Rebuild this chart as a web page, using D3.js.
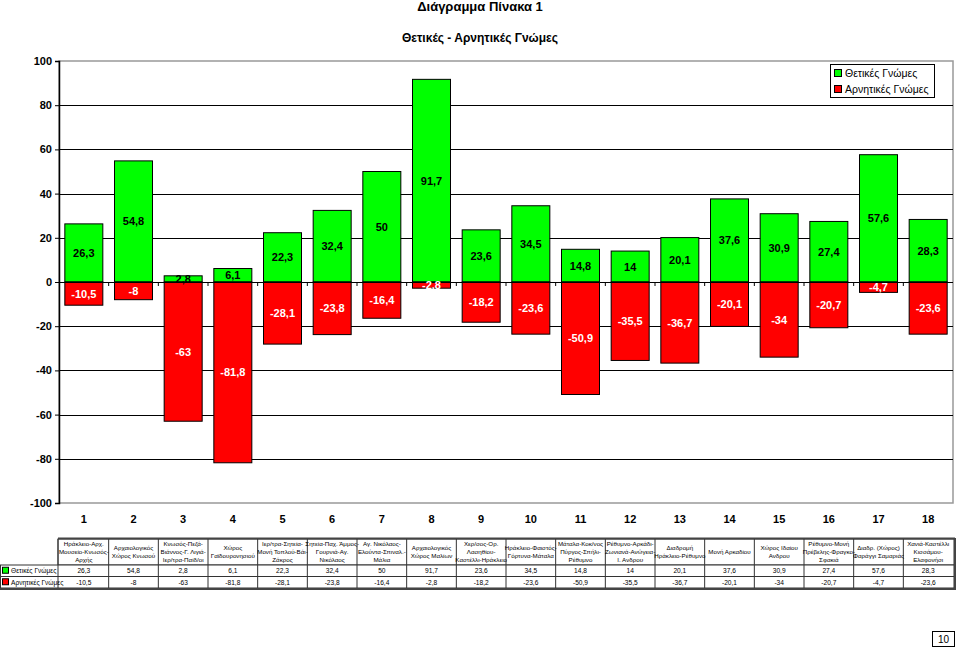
<!DOCTYPE html>
<html lang="el">
<head>
<meta charset="utf-8">
<title>Διάγραμμα Πίνακα 1</title>
<script src="https://d3js.org/d3.v7.min.js"></script>
<style>
  body { margin: 0; background: #fff; }
  svg { display: block; font-family: Arial, "Liberation Sans", sans-serif; }
</style>
</head>
<body>
<div id="chart"></div>
<script>
// categories (routes / sites), as printed in the table header
var categories = [
  ["Ηράκλειο-Αρχ.", "Μουσείο-Κνωσός-", "Αρχής"],
  ["Αρχαιολογικός", "Χώρος Κνωσού"],
  ["Κνωσός-Πεζά-", "Βιάννος-Γ. Λιγιά-", "Ιερ/τρα-Παίδ/οι"],
  ["Χώρος", "Γαϊδουρονησιού"],
  ["Ιερ/τρα-Σητεία-", "Μονή Τοπλού-Βάι-", "Ζάκρος"],
  ["Σητεία-Παχ. Άμμος-", "Γουρνιά-Αγ.", "Νικόλαος"],
  ["Αγ. Νικόλαος-", "Ελούντα-Σπιναλ.-", "Μάλια"],
  ["Αρχαιολογικός", "Χώρος Μαλίων"],
  ["Χερ/σος-Ορ.", "Λασηθίου-", "Καστέλλι-Ηράκλειο"],
  ["Ηράκλειο-Φαιστός-", "Γόρτυνα-Μάταλα"],
  ["Μάταλα-Κοκ/νος", "Πύργος-Σπήλι-", "Ρέθυμνο"],
  ["Ρέθυμνο-Αρκάδι-", "Ζωνιανά-Ανώγεια-", "Ι. Ανδρου"],
  ["Διαδρομή", "Ηράκλειο-Ρέθυμνο"],
  ["Μονή Αρκαδίου"],
  ["Χώρος Ιδαίου", "Ανδρου"],
  ["Ρέθυμνο-Μονή", "Πρέβελης-Φραγκο-", "Σφακιά"],
  ["Διαδρ. (Χώρος)", "Φαράγγι Σαμαριάς"],
  ["Χανιά-Καστέλλι", "Κισσάμου-", "Ελαφονήσι"]
];
var positive = [26.3, 54.8, 2.8, 6.1, 22.3, 32.4, 50, 91.7, 23.6, 34.5, 14.8, 14, 20.1, 37.6, 30.9, 27.4, 57.6, 28.3];
var negative = [-10.5, -8, -63, -81.8, -28.1, -23.8, -16.4, -2.8, -18.2, -23.6, -50.9, -35.5, -36.7, -20.1, -34, -20.7, -4.7, -23.6];
var seriesNames = ["Θετικές Γνώμες", "Αρνητικές Γνώμες"];
var yTicks = [-100, -80, -60, -40, -20, 0, 20, 40, 60, 80, 100];

var width = 960, height = 650;
var colors = ["#00ff00", "#ff0000"];
var fmt = function(v) { return String(v).replace(".", ","); };

var svg = d3.select("#chart").append("svg")
  .attr("width", width)
  .attr("height", height);

var idx = d3.range(categories.length);
var x = d3.scaleBand().domain(idx).range([59, 953]).paddingInner(0.235).paddingOuter(0.1175);
var y = d3.scaleLinear().domain([-100, 100]).range([503, 61]);

// titles
svg.append("text").attr("x", 480).attr("y", 11).attr("text-anchor", "middle")
  .attr("font-size", 13).attr("font-weight", "bold").text("Διάγραμμα Πίνακα 1");
svg.append("text").attr("x", 480).attr("y", 42).attr("text-anchor", "middle")
  .attr("font-size", 12).attr("font-weight", "bold").text("Θετικές - Αρνητικές Γνώμες");

// plot area border (grey) and gridlines
svg.append("rect").attr("x", 59).attr("y", y(100)).attr("width", 894).attr("height", y(-100) - y(100))
  .attr("fill", "none").attr("stroke", "#999").attr("stroke-width", 1.5);
svg.append("g").selectAll("line").data(yTicks.filter(function(t) { return t > -100 && t < 100; }))
  .enter().append("line")
  .attr("x1", 59).attr("x2", 953)
  .attr("y1", function(d) { return Math.round(y(d)) + 0.5; })
  .attr("y2", function(d) { return Math.round(y(d)) + 0.5; })
  .attr("stroke", "#000").attr("stroke-width", 1);

// bars
var bars = svg.append("g");
bars.selectAll("rect.pos").data(positive).enter().append("rect")
  .attr("x", function(d, i) { return x(i); })
  .attr("y", function(d) { return y(d); })
  .attr("width", x.bandwidth())
  .attr("height", function(d) { return y(0) - y(d); })
  .attr("fill", colors[0]).attr("stroke", "#000").attr("stroke-width", 1);
bars.selectAll("rect.neg").data(negative).enter().append("rect")
  .attr("x", function(d, i) { return x(i); })
  .attr("y", y(0))
  .attr("width", x.bandwidth())
  .attr("height", function(d) { return y(d) - y(0); })
  .attr("fill", colors[1]).attr("stroke", "#000").attr("stroke-width", 1);

// zero line and category boundary ticks
svg.append("line").attr("x1", 59).attr("x2", 953)
  .attr("y1", Math.round(y(0)) + 0.5).attr("y2", Math.round(y(0)) + 0.5)
  .attr("stroke", "#000").attr("stroke-width", 1.2);
svg.append("g").selectAll("line").data(d3.range(1, categories.length)).enter().append("line")
  .attr("x1", function(i) { return x(i) - x.step() * x.paddingInner() / 2; })
  .attr("x2", function(i) { return x(i) - x.step() * x.paddingInner() / 2; })
  .attr("y1", y(0)).attr("y2", y(0) + 4)
  .attr("stroke", "#000");

// y axis (plain hyphen minus like the original)
var yAxis = svg.append("g").attr("transform", "translate(59,0)")
  .call(d3.axisLeft(y).tickValues(yTicks).tickSize(4).tickFormat(function(d) { return String(d); }));
yAxis.select(".domain").attr("stroke", "#000").attr("stroke-width", 1.5);
yAxis.selectAll("text").attr("font-size", 11).attr("font-weight", "bold")
  .attr("font-family", "Arial, 'Liberation Sans', sans-serif").attr("fill", "#000");

// bar value labels
var labels = svg.append("g").attr("font-size", 11).attr("font-weight", "bold").attr("text-anchor", "middle");
labels.selectAll("text.pos").data(positive).enter().append("text")
  .attr("x", function(d, i) { return x(i) + x.bandwidth() / 2; })
  .attr("y", function(d) { return (y(d) + y(0)) / 2 + 4; })
  .attr("fill", "#000").text(fmt);
labels.selectAll("text.neg").data(negative).enter().append("text")
  .attr("x", function(d, i) { return x(i) + x.bandwidth() / 2; })
  .attr("y", function(d) { return (y(d) + y(0)) / 2 + 4; })
  .attr("fill", "#fff").text(fmt);

// category numbers
svg.append("g").selectAll("text").data(idx).enter().append("text")
  .attr("x", function(i) { return x(i) + x.bandwidth() / 2; })
  .attr("y", 523).attr("text-anchor", "middle")
  .attr("font-size", 11).attr("font-weight", "bold")
  .text(function(i) { return i + 1; });

// legend
var legend = svg.append("g");
legend.append("rect").attr("x", 830.5).attr("y", 64.5).attr("width", 104).attr("height", 33)
  .attr("fill", "#fff").attr("stroke", "#000");
seriesNames.forEach(function(name, k) {
  legend.append("rect").attr("x", 834.5).attr("y", 69.5 + k * 16).attr("width", 7).attr("height", 7)
    .attr("fill", colors[k]).attr("stroke", "#000");
  legend.append("text").attr("x", 845).attr("y", 77 + k * 16)
    .attr("font-size", 10.5).text(name);
});

// data table
var tTop = 539, hBottom = 565, r1 = 576.5, r2 = 588;
var tLeft = 58, tRight = 954;
var table = svg.append("g").attr("font-size", 6.2).attr("fill", "#000");
table.append("rect").attr("x", tLeft).attr("y", tTop).attr("width", tRight - tLeft).attr("height", hBottom - tTop)
  .attr("fill", "#fff").attr("stroke", "#333").attr("stroke-width", 1);
table.append("rect").attr("x", 0.5).attr("y", hBottom).attr("width", tRight - 0.5).attr("height", r2 - hBottom)
  .attr("fill", "#fff").attr("stroke", "#333").attr("stroke-width", 1);
table.append("line").attr("x1", 0).attr("x2", tRight).attr("y1", r1).attr("y2", r1).attr("stroke", "#333");
table.append("line").attr("x1", tLeft).attr("x2", tLeft).attr("y1", tTop).attr("y2", r2).attr("stroke", "#333");
// shadow-like thick outer edges
table.append("line").attr("x1", tLeft).attr("x2", tRight + 1).attr("y1", tTop - 0.5).attr("y2", tTop - 0.5)
  .attr("stroke", "#444").attr("stroke-width", 2);
table.append("line").attr("x1", tRight + 1).attr("x2", tRight + 1).attr("y1", tTop - 1).attr("y2", r2 + 1)
  .attr("stroke", "#444").attr("stroke-width", 2);
table.append("line").attr("x1", 0).attr("x2", tRight + 2).attr("y1", r2 + 1).attr("y2", r2 + 1)
  .attr("stroke", "#444").attr("stroke-width", 2);

table.selectAll("line.col").data(d3.range(1, categories.length)).enter().append("line")
  .attr("x1", function(i) { return x(i) - x.step() * x.paddingInner() / 2; })
  .attr("x2", function(i) { return x(i) - x.step() * x.paddingInner() / 2; })
  .attr("y1", tTop).attr("y2", r2).attr("stroke", "#333");

categories.forEach(function(lines, i) {
  var cx = x(i) + x.bandwidth() / 2;
  var lh = 8.2;
  var y0 = (tTop + hBottom) / 2 - (lines.length - 1) * lh / 2 + 2.2;
  lines.forEach(function(t, j) {
    table.append("text").attr("x", cx).attr("y", y0 + j * lh).attr("text-anchor", "middle").text(t);
  });
});
[positive, negative].forEach(function(vals, k) {
  var ry = k === 0 ? (hBottom + r1) / 2 + 2.5 : (r1 + r2) / 2 + 2.5;
  table.selectAll("text.v" + k).data(vals).enter().append("text")
    .attr("x", function(d, i) { return x(i) + x.bandwidth() / 2; })
    .attr("y", ry).attr("text-anchor", "middle").attr("font-size", 6.6).text(fmt);
  table.append("rect").attr("x", 2.5).attr("y", ry - 6).attr("width", 6).attr("height", 6)
    .attr("fill", colors[k]).attr("stroke", "#000");
  table.append("text").attr("x", 11).attr("y", ry).attr("font-size", 6.6).text(seriesNames[k]);
});

// page number box
svg.append("rect").attr("x", 932.5).attr("y", 631.5).attr("width", 22).attr("height", 15)
  .attr("fill", "#fff").attr("stroke", "#000");
svg.append("text").attr("x", 943.5).attr("y", 643).attr("text-anchor", "middle")
  .attr("font-size", 10).text("10");
</script>
</body>
</html>
